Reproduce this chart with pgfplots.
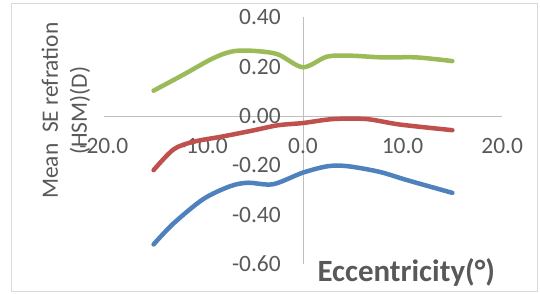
\documentclass[border=0pt]{standalone}
\usepackage{pgfplots}
\pgfplotsset{compat=1.18}
\usepackage{fontspec}
\setmainfont{Carlito}
\definecolor{txt}{HTML}{595959}
\definecolor{axgray}{HTML}{BFBFBF}
\definecolor{framec}{HTML}{D9D9D9}
\definecolor{sblue}{HTML}{4F81BD}
\definecolor{sred}{HTML}{C0504D}
\definecolor{sgreen}{HTML}{9BBB59}
\begin{document}
\begin{tikzpicture}
\begin{axis}[
 scale only axis, width=398bp, height=246.5bp,
 xmin=-20, xmax=20, ymin=-0.6, ymax=0.4,
 axis lines=middle, axis line style={-, draw=axgray, line width=0.9bp},
 hide obscured x ticks=false, hide obscured y ticks=false,
 xtick={-20,-10,0,10,20}, xticklabels={-20.0,-10.0,0.0,10.0,20.0},
 ytick={-0.6,-0.4,-0.2,0,0.2,0.4}, yticklabels={-0.60,-0.40,-0.20,0.00,0.20,0.40},
 major tick length=0,
 tick label style={font=\fontsize{23.5}{27}\selectfont, text=txt, inner sep=0pt},
 xticklabel style={anchor=base, yshift=-37.3bp},
 yticklabel style={anchor=base east, xshift=-22bp, yshift=-7.5bp},
 clip=false,
]
\path[draw=framec, line width=1bp] (axis cs:-29.22,0.4544) rectangle (axis cs:23.59,-0.710);
\path (axis cs:-30.42,0.4706) rectangle (axis cs:23.80,-0.718);
\addplot[sblue, line width=4.5bp, smooth, line cap=round, line join=round] coordinates {
(-15,-0.520) (-13,-0.435) (-10,-0.336) (-7.3,-0.284) (-5.5,-0.270) (-3,-0.276) (0,-0.229) (2.5,-0.203) (4.5,-0.203) (7.7,-0.226) (10.5,-0.260) (15,-0.311)};
\addplot[sred, line width=4.5bp, smooth, line cap=round, line join=round] coordinates {
(-15,-0.219) (-13,-0.135) (-11,-0.104) (-8,-0.082) (-5,-0.058) (-2.5,-0.037) (0,-0.028) (3,-0.012) (6.4,-0.012) (9.7,-0.034) (15,-0.057)};
\addplot[sgreen, line width=4.5bp, smooth, line cap=round, line join=round] coordinates {
(-15,0.103) (-12,0.168) (-9,0.235) (-7,0.263) (-4.8,0.264) (-2.5,0.250) (0,0.198) (2.4,0.241) (4.7,0.245) (8,0.238) (11.4,0.238) (15,0.223)};
\node[anchor=base west, inner sep=0pt, font=\fontsize{31}{37}\selectfont\bfseries, text=txt] at (axis cs:1.44,-0.672) {Eccentricity(°)};
\node[rotate=90, align=center, inner sep=0pt, font=\fontsize{23.5}{29}\selectfont, text=txt] at (axis cs:-23.8,0.022) {Mean~~SE refration\\(HSM)(D)};
\end{axis}
\end{tikzpicture}
\end{document}
